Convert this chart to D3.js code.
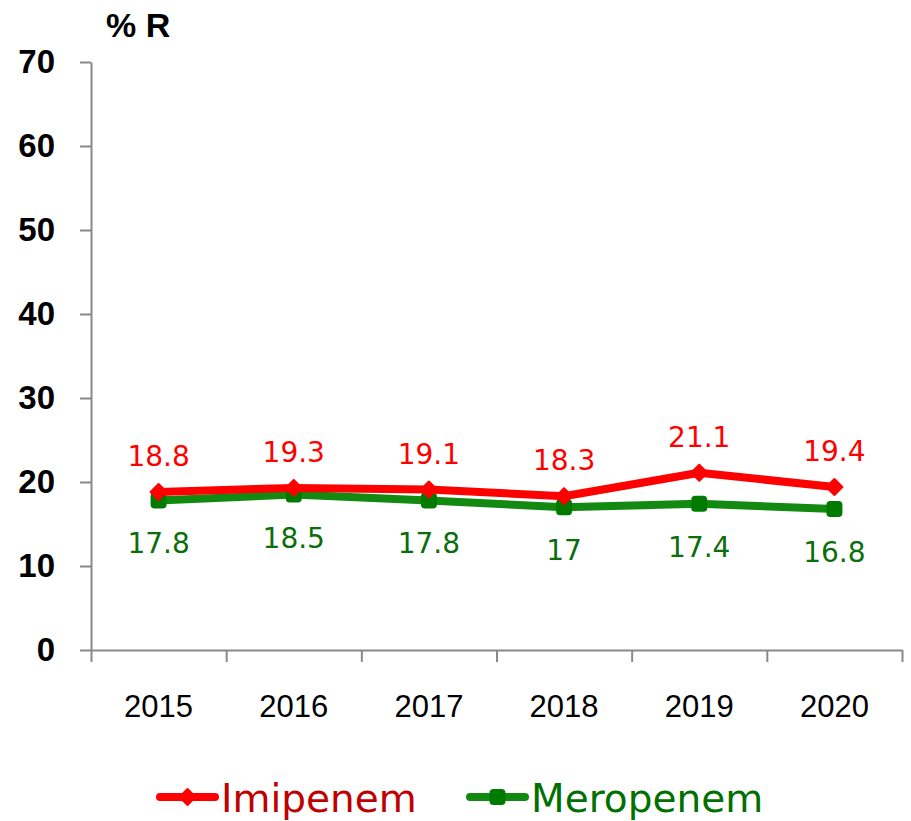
<!DOCTYPE html>
<html>
<head>
<meta charset="utf-8">
<script src="https://cdn.jsdelivr.net/npm/d3@7"></script>
<style>
  body { margin: 0; background: #fff; }
  svg { display: block; }
  .domain { stroke: #898989; stroke-width: 2; }
  .tick line { stroke: #898989; stroke-width: 2; }
</style>
</head>
<body>
<div id="chart"></div>
<script>
// data
const years = ["2015", "2016", "2017", "2018", "2019", "2020"];
const imipenem = [18.8, 19.3, 19.1, 18.3, 21.1, 19.4];
const meropenem = [17.8, 18.5, 17.8, 17, 17.4, 16.8];
const yTicks = [0, 10, 20, 30, 40, 50, 60, 70];

const svgWidth = 911;
const svgHeight = 821;

const margin = { top: 62, right: 9, bottom: 171, left: 91 };
const width = svgWidth - margin.left - margin.right;
const height = svgHeight - margin.top - margin.bottom;

const svg = d3.select("#chart")
  .append("svg")
  .attr("width", svgWidth)
  .attr("height", svgHeight);

const chartGroup = svg.append("g")
  .attr("transform", `translate(${margin.left},${margin.top})`);

const xScale = d3.scaleBand().domain(years).range([0, width]).padding(0);
const yScale = d3.scaleLinear().domain([0, 70]).range([height, 0]);

// y axis
const yAxis = chartGroup.append("g")
  .call(d3.axisLeft(yScale).tickValues(yTicks).tickSize(11).tickPadding(25).tickSizeOuter(0));
yAxis.selectAll("text")
  .attr("font-family", "'Liberation Sans', Arial, sans-serif")
  .attr("font-weight", "bold")
  .attr("font-size", "33px")
  .attr("fill", "#000");

// x axis: tick marks at band edges
const edgeScale = d3.scaleLinear().domain([0, years.length]).range([0, width]);
chartGroup.append("g")
  .attr("transform", `translate(0,${height})`)
  .call(d3.axisBottom(edgeScale).tickValues(d3.range(years.length + 1)).tickSize(12).tickFormat("").tickSizeOuter(0));

// x labels at band centers
const xLabels = chartGroup.append("g")
  .attr("transform", `translate(0,${height})`)
  .call(d3.axisBottom(xScale).tickSize(0).tickPadding(45));
xLabels.select(".domain").remove();
xLabels.selectAll("text")
  .attr("font-family", "'Liberation Sans', Arial, sans-serif")
  .attr("font-size", "31px")
  .attr("fill", "#000");

// axis title
svg.append("text")
  .attr("x", 106)
  .attr("y", 37)
  .attr("font-family", "'Liberation Sans', Arial, sans-serif")
  .attr("font-weight", "bold")
  .attr("font-size", "34px")
  .attr("fill", "#000")
  .text("% R");

const cx = (d, i) => xScale(years[i]) + xScale.bandwidth() / 2;

const series = [
  { name: "Imipenem", values: imipenem, line: "#ff0000", marker: "#ff0000", label: "#ff0000", legend: "#c00000", shape: "diamond", dy: -26 },
  { name: "Meropenem", values: meropenem, line: "#128a12", marker: "#007a00", label: "#0a6e0a", legend: "#007000", shape: "square", dy: 53 }
];

const lineGen = d3.line().x(cx).y(d => yScale(d));

function drawMarker(g, shape, color, x, y) {
  if (shape === "diamond") {
    g.append("path")
      .attr("d", `M${x},${y - 8}L${x + 8},${y}L${x},${y + 8}L${x - 8},${y}Z`)
      .attr("fill", color)
      .attr("stroke", color)
      .attr("stroke-width", 2)
      .attr("stroke-linejoin", "round");
  } else {
    g.append("rect")
      .attr("x", x - 7).attr("y", y - 7)
      .attr("width", 14).attr("height", 14)
      .attr("rx", 3)
      .attr("fill", color)
      .attr("stroke", color)
      .attr("stroke-width", 2);
  }
}

// draw green first so red sits on top
[series[1], series[0]].forEach(s => {
  chartGroup.append("path")
    .datum(s.values)
    .attr("d", lineGen)
    .attr("fill", "none")
    .attr("stroke", s.line)
    .attr("stroke-width", 8)
    .attr("stroke-linejoin", "round")
    .attr("stroke-linecap", "round");
  const mg = chartGroup.append("g");
  s.values.forEach((v, i) => drawMarker(mg, s.shape, s.marker, cx(v, i), yScale(v)));
});

series.forEach(s => {
  chartGroup.selectAll(null)
    .data(s.values)
    .enter()
    .append("text")
    .attr("x", cx)
    .attr("y", d => yScale(d) + s.dy)
    .attr("text-anchor", "middle")
    .attr("font-family", "'DejaVu Sans', sans-serif")
    .attr("font-size", "28px")
    .attr("fill", s.label)
    .text(d => d);
});

// legend
const legendItems = [
  { s: series[0], x: 160 },
  { s: series[1], x: 470 }
];
const ly = 797;
legendItems.forEach(({ s, x }) => {
  const g = svg.append("g");
  g.append("line")
    .attr("x1", x).attr("x2", x + 55)
    .attr("y1", ly).attr("y2", ly)
    .attr("stroke", s.line)
    .attr("stroke-width", 8)
    .attr("stroke-linecap", "round");
  drawMarker(g, s.shape, s.marker, x + 27.5, ly);
  g.append("text")
    .attr("x", x + 61)
    .attr("y", ly + 15)
    .attr("font-family", "'DejaVu Sans', sans-serif")
    .attr("font-size", "39px")
    .attr("fill", s.legend)
    .text(s.name);
});
</script>
</body>
</html>
